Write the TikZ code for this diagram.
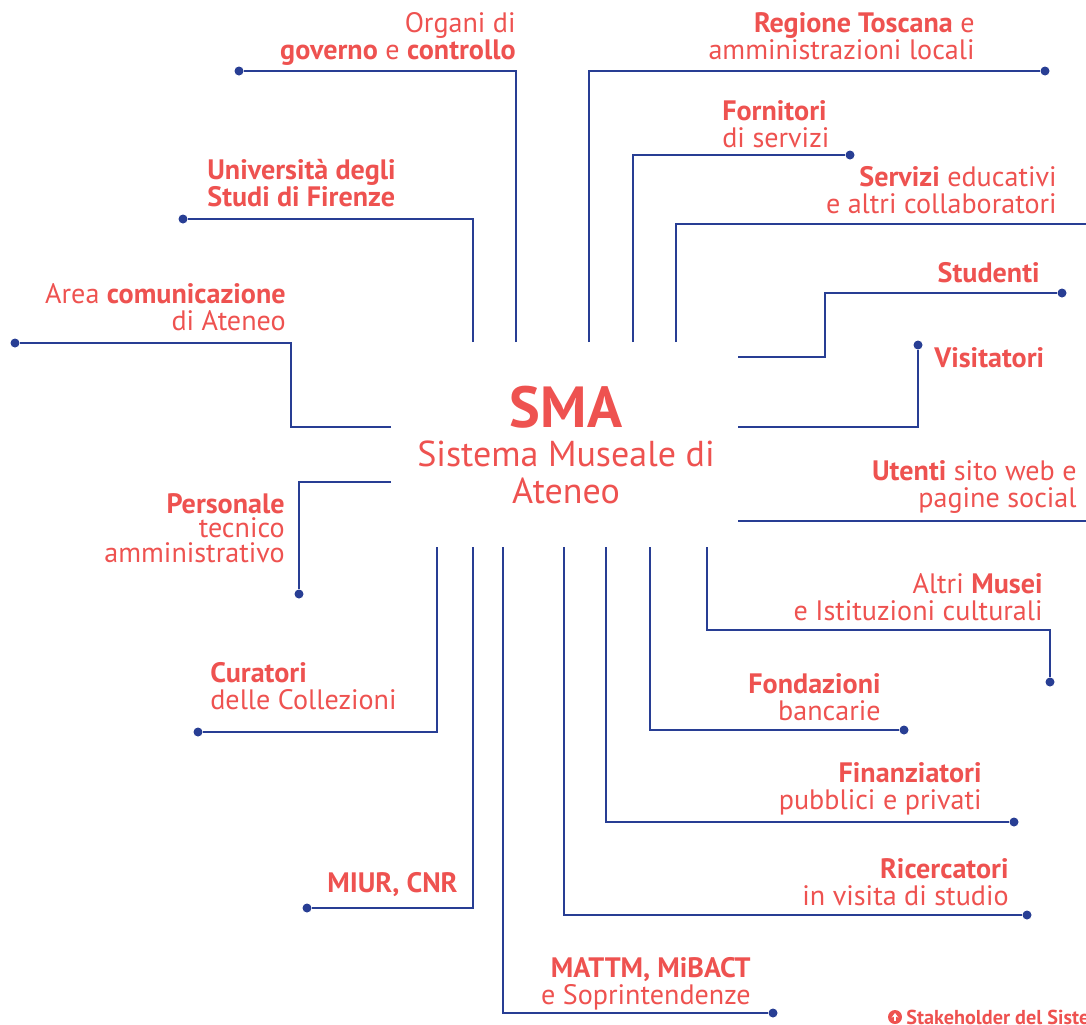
\documentclass[tikz,border=0pt]{standalone}
\usepackage{fontspec}
\setmainfont{PT Sans}
\usetikzlibrary{calc,arrows.meta}
\definecolor{smablue}{RGB}{40,62,148}
\definecolor{smared}{RGB}{238,82,80}
\tikzset{
  link/.style={
    draw=smablue,
    line width=1.3pt,
    line join=miter
  },
  node-dot/.style={circle, fill=smablue, minimum size=0.18cm, inner sep=0pt},
  lbl/.style={text=smared, inner sep=0pt, font=\fontsize{16}{15}\selectfont},
  lbl-r/.style={lbl, align=right, anchor=base east},
  lbl-l/.style={lbl, align=left, anchor=base west}
}

\begin{document}
\begin{tikzpicture}[x=0.02cm, y=-0.02cm]
  \useasboundingbox (0,0) rectangle (1086,1025);
  \clip (0,0) rectangle (1086,1025);

  % centre
  \node[lbl, anchor=base, font=\fontsize{33}{33}\selectfont\bfseries] (sma) at (566,427) {SMA};
  \node[lbl, anchor=base, align=center, font=\fontsize{20.5}{20.5}\selectfont] (smaname) at (566,503) {Sistema Museale di\\Ateneo};

  % stub ends round the centre
  \coordinate (orgS) at (516,342);
  \coordinate (uniS) at (473,342);
  \coordinate (regS) at (589,342);
  \coordinate (forS) at (633,342);
  \coordinate (serS) at (676,342);
  \coordinate (stuS) at (738,357);
  \coordinate (visS) at (738,427);
  \coordinate (uteS) at (738,521);
  \coordinate (musS) at (707,547);
  \coordinate (fonS) at (650,547);
  \coordinate (finS) at (606,547);
  \coordinate (ricS) at (564,547);
  \coordinate (matS) at (503,547);
  \coordinate (miuS) at (473,547);
  \coordinate (curS) at (437,547);
  \coordinate (perS) at (391,482);
  \coordinate (comS) at (391,427);

  % free ends
  \node[node-dot] (orgD) at (239,71) {};
  \node[node-dot] (uniD) at (183,219) {};
  \node[node-dot] (regD) at (1045,71) {};
  \node[node-dot] (forD) at (850,155) {};
  \coordinate (serE) at (1086,224);
  \node[node-dot] (stuD) at (1062,293) {};
  \node[node-dot] (visD) at (918,345) {};
  \coordinate (uteE) at (1086,521);
  \node[node-dot] (musD) at (1050,682) {};
  \node[node-dot] (fonD) at (904,730) {};
  \node[node-dot] (finD) at (1014,822) {};
  \node[node-dot] (ricD) at (1027,915) {};
  \node[node-dot] (matD) at (773,1013) {};
  \node[node-dot] (miuD) at (307,908) {};
  \node[node-dot] (curD) at (198,732) {};
  \node[node-dot] (perD) at (299,594) {};
  \node[node-dot] (comD) at (15,343) {};

  % connectors
  \draw[link] (orgS) |- (orgD);
  \draw[link] (uniS) |- (uniD);
  \draw[link] (regS) |- (regD);
  \draw[link] (forS) |- (forD);
  \draw[link] (serS) |- (serE);
  \draw[link] (stuS) -- ++(87,0) |- (stuD);
  \draw[link] (visS) -| (visD);
  \draw[link] (uteS) -- (uteE);
  \draw[link] (musS) -- ++(0,83) -| (musD);
  \draw[link] (fonS) |- (fonD);
  \draw[link] (finS) |- (finD);
  \draw[link] (ricS) |- (ricD);
  \draw[link] (matS) |- (matD);
  \draw[link] (miuS) |- (miuD);
  \draw[link] (curS) |- (curD);
  \draw[link] (perS) -| (perD);
  \draw[link] (comS) -- ++(-100,0) |- (comD);

  % labels (anchored on the baseline of their last line)
  \node[lbl-r] (org) at (516,59) {Organi di\\\textbf{governo} e \textbf{controllo}};
  \node[lbl-l] (uni) at (207,206) {\textbf{Università degli}\\\textbf{Studi di Firenze}};
  \node[lbl-r] (com) at (286,330) {Area \textbf{comunicazione}\\di Ateneo};
  \node[lbl-r, font=\fontsize{16}{13.7}\selectfont] (per) at (285,562) {\textbf{Personale}\\tecnico\\amministrativo};
  \node[lbl-l] (cur) at (210,709) {\textbf{Curatori}\\delle Collezioni};
  \node[lbl-r] (miu) at (458,892) {\textbf{MIUR, CNR}};
  \node[lbl-r] (mat) at (751,1004) {\textbf{MATTM, MiBACT}\\e Soprintendenze};
  \node[lbl-r] (ric) at (1009,905) {\textbf{Ricercatori}\\in visita di studio};
  \node[lbl-r] (fin) at (982,809) {\textbf{Finanziatori}\\pubblici e privati};
  \node[lbl-r] (fon) at (881,720) {\textbf{Fondazioni}\\bancarie};
  \node[lbl-r] (mus) at (1043,620) {Altri \textbf{Musei}\\e Istituzioni culturali};
  \node[lbl-r] (ute) at (1077,507) {\textbf{Utenti} sito web e\\pagine social};
  \node[lbl-l] (vis) at (934,367) {\textbf{Visitatori}};
  \node[lbl-r] (stu) at (1040,282) {\textbf{Studenti}};
  \node[lbl-r] (ser) at (1057,213) {\textbf{Servizi} educativi\\e altri collaboratori};
  \node[lbl-l] (for) at (722,147) {\textbf{Fornitori}\\di servizi};
  \node[lbl-r] (reg) at (975,59) {\textbf{Regione Toscana} e\\amministrazioni locali};

  % caption
  \node[circle, fill=smared, minimum size=0.28cm, inner sep=0pt] (capicon) at (895,1017) {};
  \draw[white, line width=0.9pt, -{Stealth[length=0.09cm,width=0.13cm]}] ($(capicon)+(0,4)$) -- ($(capicon)+(0,-4)$);
  \node[lbl, anchor=base west, font=\fontsize{11.5}{12}\selectfont\bfseries] (caption) at (906,1024) {Stakeholder del Sistema};
\end{tikzpicture}
\end{document}
